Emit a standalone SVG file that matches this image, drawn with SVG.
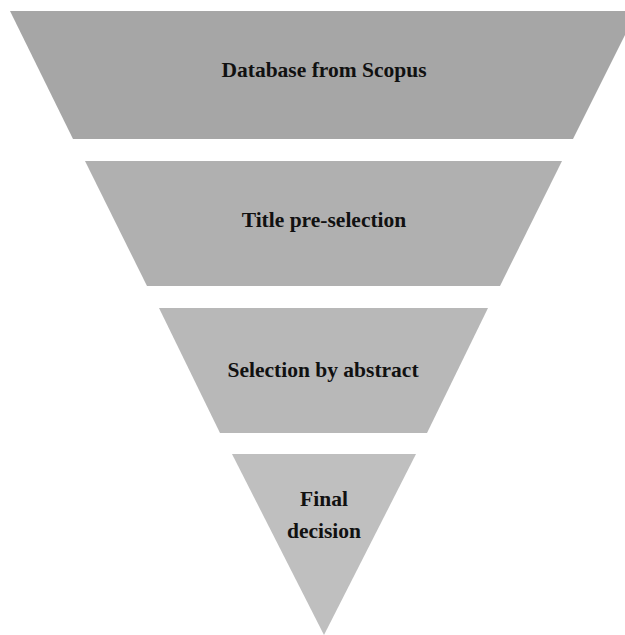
<svg xmlns="http://www.w3.org/2000/svg" width="625" height="635" viewBox="0 0 625 635">
  <style>
    .lbl { font-family: "Liberation Serif", "Times New Roman", serif; font-weight: bold; font-size: 21.5px; fill: #111111; text-anchor: middle; }
  </style>
  <rect width="625" height="635" fill="#ffffff"/>
  <g id="connectors"></g>
  <g id="stage1">
    <polygon points="10,11 637,11 573,139 73,139" fill="#a6a6a6"/>
    <text class="lbl" x="324" y="77">Database from Scopus</text>
  </g>
  <g id="stage2">
    <polygon points="85,161 562,161 500,286 147,286" fill="#b0b0b0"/>
    <text class="lbl" x="324" y="227">Title pre-selection</text>
  </g>
  <g id="stage3">
    <polygon points="159,308 488,308 427,433 220,433" fill="#b8b8b8"/>
    <text class="lbl" x="323" y="377">Selection by abstract</text>
  </g>
  <g id="stage4">
    <polygon points="232,454 416,454 324,635" fill="#bfbfbf"/>
    <text class="lbl" x="324" y="506">Final</text>
    <text class="lbl" x="324" y="538">decision</text>
  </g>
</svg>
